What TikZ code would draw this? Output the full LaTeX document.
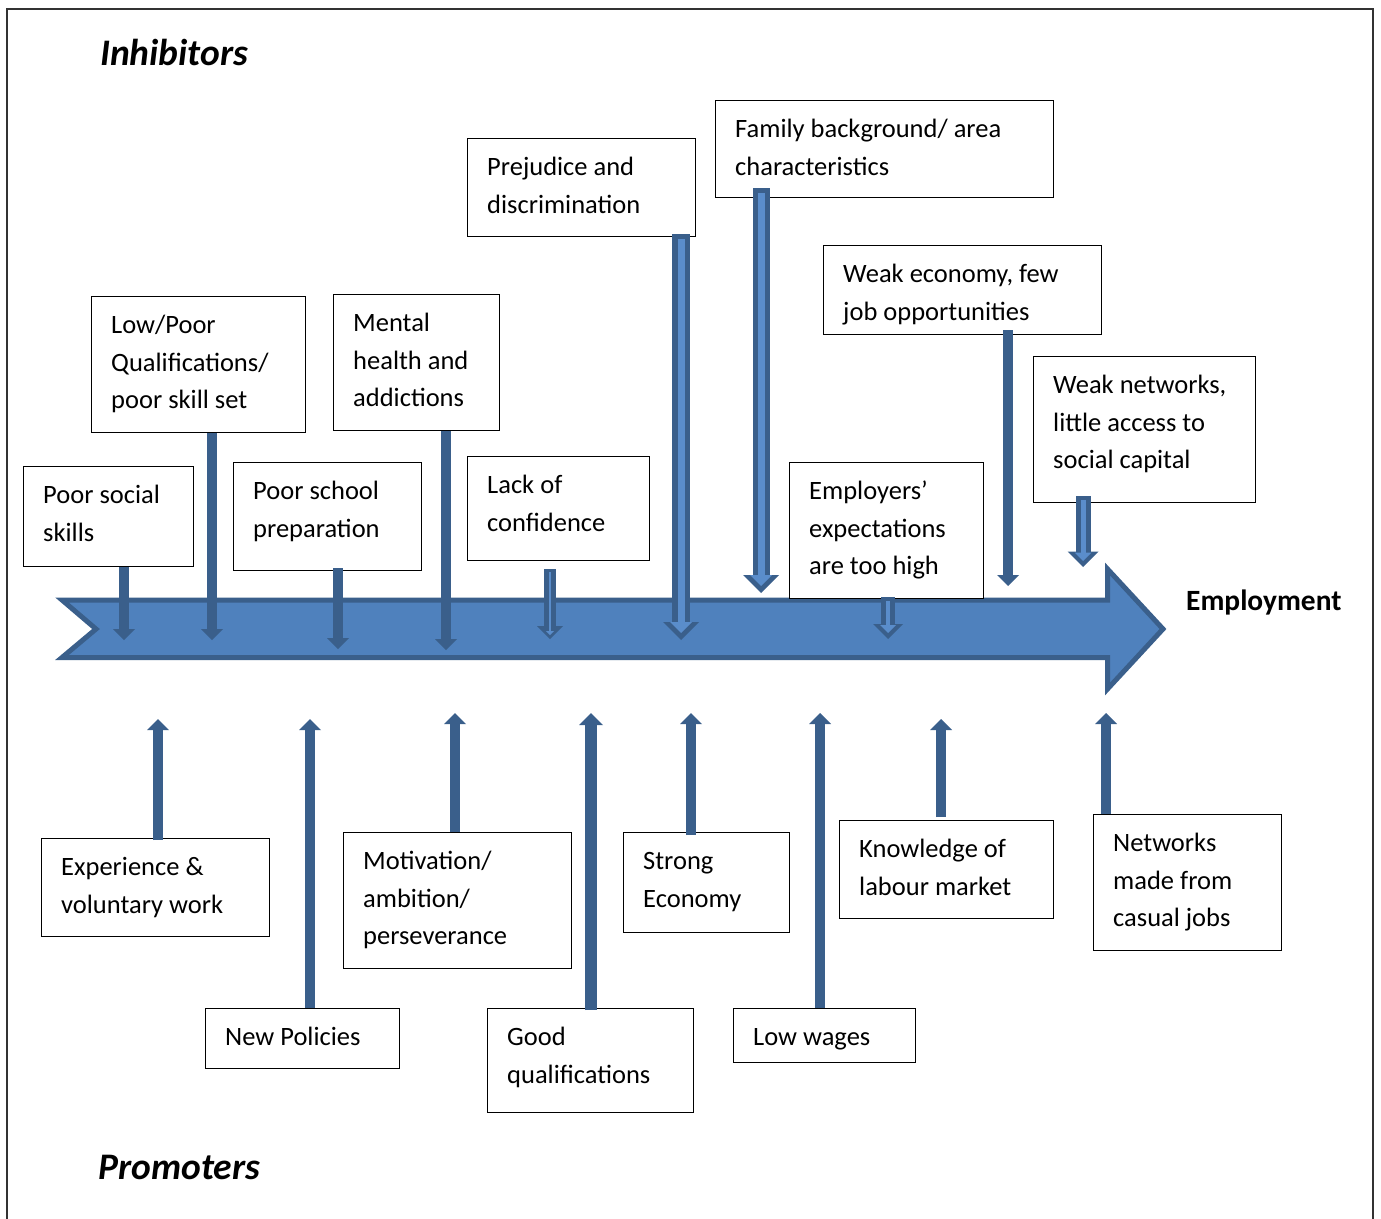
\documentclass[tikz,border=0pt]{standalone}
\usepackage{fontspec}
\setmainfont{Carlito}
\usetikzlibrary{arrows.meta}
\definecolor{fillb}{HTML}{4F81BD}
\definecolor{darkb}{HTML}{3A5F8B}
\definecolor{lightb}{HTML}{5A8DCB}
\tikzset{
  box/.style={draw=black, line width=1.4pt, fill=white, inner sep=0pt, anchor=north west},
  txt/.style={inner sep=0pt, align=left, anchor=north west, font=\fontsize{26.5}{37.7}\selectfont},
  ttl/.style={inner sep=0pt, anchor=base west, font=\fontsize{37.5}{40}\selectfont\bfseries\itshape},
  tarr/.style={draw=darkb, line width=10pt, -{Triangle[width=22pt,length=11pt,line width=0pt]}},
  outerarr/.style={draw=darkb, -{Triangle[width=#1,length=#1/2,line width=0pt]}},
  innerarr/.style={draw=lightb, -{Triangle[width=#1,length=#1/2,line width=0pt]}},
}
\newcommand{\tbox}[6]{%
  \node[box, minimum width={#4-#2}, minimum height={#5-#3}] (#1) at (#2,#3) {};
  \node[txt] (#1t) at ([xshift=20pt,yshift=-10.8pt]#1.north west) {\strut #6};
}
\begin{document}
\begin{tikzpicture}[x=1pt,y=-1pt]
\useasboundingbox (0,0) rectangle (1381,1218);
% frame
\draw[black!80, line width=2pt] (7,1240) -- (7,9) -- (1373,9) -- (1373,1240);

% main arrow
\draw[fill=fillb, draw=darkb, line width=5pt, line join=miter]
  (62,600) -- (1107.5,600) -- (1107.5,569) -- (1163,629) -- (1107.5,689)
  -- (1107.5,657.5) -- (62,657.5) -- (96,629) -- cycle;

% titles
\node[ttl] (inh) at (100,65) {Inhibitors};
\node[ttl] (pro) at (98,1179) {Promoters};
\node[inner sep=0pt, anchor=base west, font=\fontsize{29.4}{32}\selectfont\bfseries] (emp) at (1186,610) {Employment};

% inhibitor boxes
\tbox{b1}{23}{466}{193}{566}{Poor social\\skills}
\tbox{b2}{91}{296}{305}{432}{Low/Poor\\Qualifications/\\poor skill set}
\tbox{b3}{333}{294}{499}{430}{Mental\\health and\\addictions}
\tbox{b4}{233}{462}{421}{570}{Poor school\\preparation}
\tbox{b5}{467}{456}{649}{560}{Lack of\\confidence}
\tbox{b6}{467}{138}{695}{236}{Prejudice and\\discrimination}
\tbox{b7}{715}{100}{1053}{197}{Family background/ area\\characteristics}
\tbox{b8}{823}{245}{1101}{334}{Weak economy, few\\job opportunities}
\tbox{b9}{1033}{356}{1255}{502}{Weak networks,\\little access to\\social capital}
\tbox{b10}{789}{462}{983}{598}{Employers’\\expectations\\are too high}

% promoter boxes
\tbox{p1}{41}{838}{269}{936}{Experience \&\\voluntary work}
\tbox{p2}{205}{1008}{399}{1068}{New Policies}
\tbox{p3}{343}{832}{571}{968}{Motivation/\\ambition/\\perseverance}
\tbox{p4}{487}{1008}{693}{1112}{Good\\qualifications}
\tbox{p5}{623}{832}{789}{932}{Strong\\Economy}
\tbox{p6}{733}{1008}{915}{1062}{Low wages}
\tbox{p7}{839}{820}{1053}{918}{Knowledge of\\labour market}
\tbox{p8}{1093}{814}{1281}{950}{Networks\\made from\\casual jobs}

% arrow tip coordinates (inhibitors)
\coordinate (d1) at (124,640);
\coordinate (d2) at (212,640);
\coordinate (d3) at (446,650);
\coordinate (d4) at (338,649);
\coordinate (d5) at (550,639);
\coordinate (d6) at (681,640);
\coordinate (d7) at (761,593);
\coordinate (d8) at (1008,586);
\coordinate (d9) at (1083,567);
\coordinate (d10) at (888,639);

% arrow tip coordinates (promoters)
\coordinate (u1) at (158,719);
\coordinate (u2) at (310,719);
\coordinate (u3) at (455,713);
\coordinate (u4) at (591,713);
\coordinate (u5) at (691,713);
\coordinate (u6) at (820,713);
\coordinate (u7) at (941,719);
\coordinate (u8) at (1106,713);

% inhibitor arrows
\draw[tarr] (b1.south -| d1) -- (d1);
\draw[tarr] (b2.south -| d2) -- (d2);
\draw[tarr] (b3.south -| d3) -- (d3);
\draw[tarr, shorten <=-3pt] (b4.south -| d4) -- (d4);
\draw[tarr, shorten <=-5pt] (b8.south -| d8) -- (d8);

\draw[outerarr=26pt, line width=12pt, shorten <=8pt] (b5.south -| d5) -- (d5);
\draw[innerarr=8pt, line width=2pt, shorten <=11pt, shorten >=4pt] (b5.south -| d5) -- (d5);

\draw[outerarr=36pt, line width=18pt, shorten <=-3pt] (b6.south -| d6) -- (d6);
\draw[innerarr=22pt, line width=7pt, shorten <=2pt, shorten >=7pt] (b6.south -| d6) -- (d6);

\draw[outerarr=36pt, line width=17pt, shorten <=-10pt] (b7.south -| d7) -- (d7);
\draw[innerarr=22pt, line width=7pt, shorten <=-5pt, shorten >=7pt] (b7.south -| d7) -- (d7);

\draw[outerarr=31pt, line width=15pt, shorten <=-7pt] (b9.south -| d9) -- (d9);
\draw[innerarr=17pt, line width=5pt, shorten <=-3pt, shorten >=6pt] (b9.south -| d9) -- (d9);

\draw[outerarr=30pt, line width=14pt, shorten <=-2pt] (b10.south -| d10) -- (d10);
\draw[innerarr=16pt, line width=4pt, shorten <=2pt, shorten >=6pt] (b10.south -| d10) -- (d10);

% promoter arrows
\draw[tarr, shorten <=-2pt] (p1.north -| u1) -- (u1);
\draw[tarr] (p2.north -| u2) -- (u2);
\draw[tarr] (p3.north -| u3) -- (u3);
\draw[tarr, line width=12pt, -{Triangle[width=24pt,length=12pt,line width=0pt]}, shorten <=-2pt] (p4.north -| u4) -- (u4);
\draw[tarr, shorten <=-3pt] (p5.north -| u5) -- (u5);
\draw[tarr] (p6.north -| u6) -- (u6);
\draw[tarr, shorten <=3pt] (p7.north -| u7) -- (u7);
\draw[tarr] (p8.north -| u8) -- (u8);
\end{tikzpicture}
\end{document}
